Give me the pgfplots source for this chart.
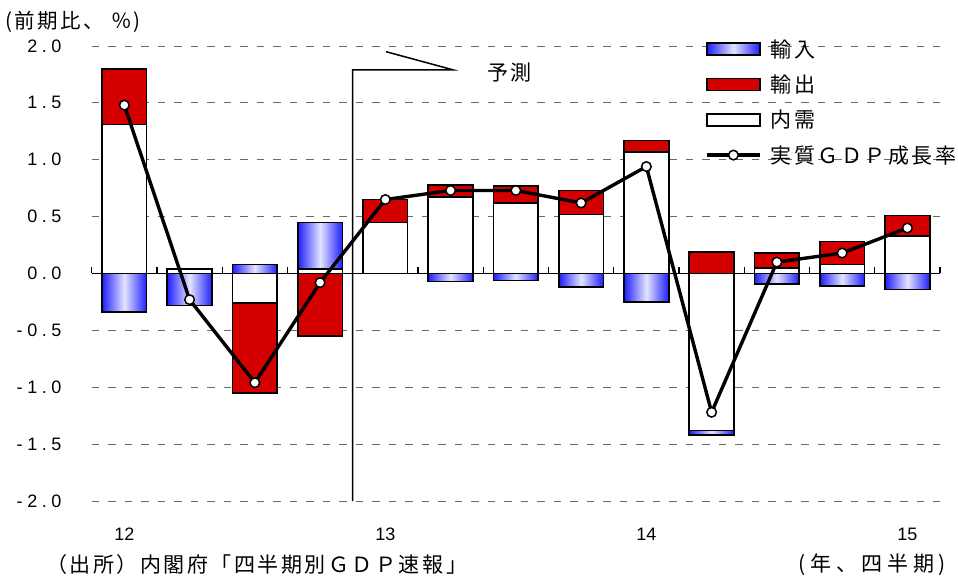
\documentclass[border=0pt]{standalone}
\usepackage{fontspec}
\usepackage{pgfplots}
\usepackage{pgfplotstable}
\pgfplotsset{compat=1.18}
\setmainfont{Noto Sans CJK JP}
\newfontfamily\jp{Noto Sans CJK JP}[LetterSpace=12]
\newfontfamily\jpw{Noto Sans CJK JP}[LetterSpace=22]
\newfontfamily\num{Liberation Sans}
\definecolor{expred}{RGB}{212,0,0}
\definecolor{impblue}{RGB}{30,30,255}
\definecolor{impmid}{RGB}{228,228,255}
\definecolor{gridgray}{RGB}{105,105,105}

% domestic (内需) and exports (輸出) split into positive/negative parts
\pgfplotstableread{
x domP expP domN expN gdp
1 1.31 0.49 0 0 1.48
2 0.04 0 0 0 -0.23
3 0 0 -0.26 -0.79 -0.96
4 0.04 0 0 -0.55 -0.08
5 0.45 0.20 0 0 0.65
6 0.67 0.11 0 0 0.73
7 0.62 0.15 0 0 0.73
8 0.52 0.21 0 0 0.62
9 1.07 0.10 0 0 0.94
10 0 0.19 -1.38 0 -1.22
11 0.05 0.13 0 0 0.10
12 0.08 0.20 0 0 0.18
13 0.33 0.18 0 0 0.40
}\data

\newcommand{\ls}{\hspace{4.6pt}}

\pgfplotsset{
  base/.style={at={(91.7pt,75pt)}, anchor=south west, scale only axis,
    width=848.3pt, height=455pt, xmin=0.5, xmax=13.5, ymin=-2, ymax=2},
  impstyle/.style={draw=black, line width=1.6pt, left color=impblue, right color=impblue, middle color=impmid},
  impbar/.style={impstyle, ybar, bar width=0.685, bar shift=0pt},
  expstyle/.style={draw=black, line width=1.6pt, fill=expred},
  domstyle/.style={draw=black, line width=1.6pt, fill=white},
  boxlegend/.style={legend image code/.code={\draw[##1] (0pt,-6pt) rectangle (53pt,6pt);}},
  linelegend/.style={legend image code/.code={\draw[##1, mark repeat=2, mark phase=2] plot coordinates {(0pt,0pt) (26.5pt,0pt) (53pt,0pt)};}},
}

\begin{document}
\begin{tikzpicture}
\useasboundingbox (0pt,0pt) rectangle (958pt,576pt);

% grid, ticks and imports (輸入): outer end of each bar, one bar per plot
\begin{axis}[base,
  axis line style={draw=none}, tick style={draw=none}, major tick length=0pt,
  ymajorgrids, grid style={gridgray, line width=0.9pt, dash pattern=on 7.5pt off 9pt},
  ytick={-2,-1.5,-1,-0.5,0,0.5,1,1.5,2},
  yticklabels={-\ls2\ls.\ls0, -\ls1\ls.\ls5, -\ls1\ls.\ls0, -\ls0\ls.\ls5, 0\ls.\ls0, 0\ls.\ls5, 1\ls.\ls0, 1\ls.\ls5, 2\ls.\ls0},
  xtick={1,5,9,13}, xticklabels={12,13,14,15},
  ticklabel style={font=\num\fontsize{18pt}{20pt}\selectfont, inner sep=0pt},
  xticklabel shift=27pt, yticklabel shift=30pt,
]
\addplot[impbar] coordinates {(1,-0.34)};
\addplot[impbar] coordinates {(2,-0.28)};
\addplot[impbar] coordinates {(3,0.08)};
\addplot[impbar] coordinates {(4,0.45)};
\addplot[impbar] coordinates {(6,-0.07)};
\addplot[impbar] coordinates {(7,-0.06)};
\addplot[impbar] coordinates {(8,-0.12)};
\addplot[impbar] coordinates {(9,-0.25)};
\addplot[impbar] coordinates {(10,-1.42)};
\addplot[impbar] coordinates {(11,-0.09)};
\addplot[impbar] coordinates {(12,-0.11)};
\addplot[impbar] coordinates {(13,-0.14)};
\end{axis}

% positive parts of domestic demand and exports
\begin{axis}[base, ybar stacked, bar width=0.685, hide axis]
\addplot[domstyle] table[x=x,y=domP]{\data};
\addplot[expstyle] table[x=x,y=expP]{\data};
\end{axis}

% negative parts
\begin{axis}[base, ybar stacked, bar width=0.685, hide axis]
\addplot[domstyle] table[x=x,y=domN]{\data};
\addplot[expstyle] table[x=x,y=expN]{\data};
\end{axis}

% line, legend, annotations
\begin{axis}[base, hide axis, clip=false,
  legend style={at={(rel axis cs:0.723,1.0132)}, anchor=north west, draw=none, fill=none,
    inner xsep=0pt, inner ysep=0pt, row sep=17.3pt, column sep=9pt,
    font=\jp\fontsize{21pt}{24pt}\selectfont,
    nodes={inner sep=0pt, text height=17pt, text depth=1pt}},
  legend cell align=left,
]
\draw[black, line width=1.6pt] (axis cs:0.5,0) -- (axis cs:13.5,0);
\pgfplotsinvokeforeach{0.5,1.5,2.5,3.5,4.5,5.5,6.5,7.5,8.5,9.5,10.5,11.5,12.5,13.5}{
  \draw[black, line width=1.3pt] (axis cs:#1,0) -- ++(0pt,6pt);
}
\draw[black, line width=1.5pt] (axis cs:4.5,-2) -- (axis cs:4.5,1.79) -- (axis cs:6.04,1.79) -- (axis cs:5.01,1.95);
\node[font=\jp\fontsize{21pt}{24pt}\selectfont] at (axis cs:6.9,1.77) {予測};

\addlegendimage{impstyle, boxlegend}
\addlegendentry{輸入}
\addlegendimage{expstyle, boxlegend}
\addlegendentry{輸出}
\addlegendimage{domstyle, boxlegend}
\addlegendentry{内需}
\addplot[black, line width=3.4pt, mark=*, mark size=4.8pt,
  mark options={fill=white, draw=black, line width=1.5pt, solid}, linelegend]
  table[x=x,y=gdp]{\data};
\addlegendentry{実質ＧＤＰ成長率}
\end{axis}

\node[anchor=west, font=\jp\fontsize{20.5pt}{24pt}\selectfont, inner sep=0pt] at (5pt,554pt) {(前期比、 ％)};
\node[anchor=west, font=\jp\fontsize{21pt}{24pt}\selectfont, inner sep=0pt] at (46pt,11pt) {（出所）内閣府「四半期別ＧＤＰ速報」};
\node[anchor=east, font=\jpw\fontsize{21pt}{24pt}\selectfont, inner sep=0pt] at (946pt,11pt) {(年、四半期)};
\end{tikzpicture}
\end{document}
